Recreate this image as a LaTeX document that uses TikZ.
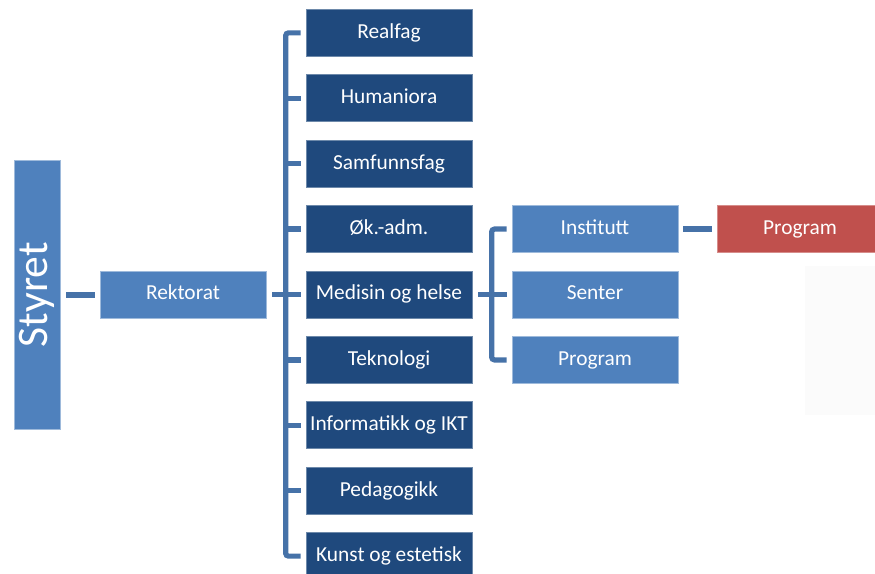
\documentclass[tikz,border=0pt]{standalone}
\usepackage{fontspec}
\setmainfont{Carlito}
\usepackage{tikz}
\definecolor{morkblaa}{RGB}{31,73,125}
\definecolor{lysblaa}{RGB}{79,129,189}
\definecolor{raudfarge}{RGB}{192,80,77}
\definecolor{linjefarge}{RGB}{70,114,168}
\usetikzlibrary{positioning}
\tikzset{
	eining/.style={
		rectangle,
		draw=white!45!lysblaa,
		line width=0.5pt,
		fill=lysblaa,
		text=white,
		minimum height=1.175cm,
		minimum width=4.15cm,
		inner sep=0pt,
		text height=11pt,
		text depth=3.4pt,
		font=\fontsize{15.2pt}{18pt}\selectfont
	},
	fag/.style={
		eining,
		draw=white!35!morkblaa,
		fill=morkblaa
	},
	raud/.style={
		eining,
		draw=white!35!raudfarge,
		fill=raudfarge
	},
	hovud/.style={
		eining,
		minimum height=6.725cm,
		minimum width=1.15cm,
		text height=,
		text depth=,
		font=\fontsize{31pt}{37pt}\selectfont
	},
	link/.style={
		draw=linjefarge,
		line width=0.13cm
	},
}

\begin{document}
\begin{tikzpicture}[node distance=1.635cm,on grid]
	\clip (0,0) rectangle (21.875,-14.35);
	\fill[black!1.5] (20.125,-6.65) rectangle (21.875,-10.375);
	\node[hovud] (styret) at (0.925,-7.3625) {\rotatebox{90}{Styret}};
	\node[eining] (rektorat) [right=3.65cm of styret] {Rektorat};
	\node[fag] (medisin) [right=5.15cm of rektorat] {Medisin og helse};
	\node[fag] (okadm) [above=of medisin] {Øk.-adm.};
	\node[fag] (samfunnsfag) [above=of okadm] {Samfunnsfag};
	\node[fag] (humaniora) [above=of samfunnsfag] {Humaniora};
	\node[fag] (realfag) [above=of humaniora] {Realfag};
	\node[fag] (teknologi) [below=of medisin] {Teknologi};
	\node[fag] (informatikk) [below=of teknologi] {Informatikk og IKT};
	\node[fag] (pedagogikk) [below=of informatikk] {Pedagogikk};
	\node[fag] (kunst) [below=of pedagogikk] {Kunst og estetisk};
	\node[eining] (senter) [right=5.15cm of medisin] {Senter};
	\node[eining] (institutt) [above=of senter] {Institutt};
	\node[eining] (program) [below=of senter] {Program};
	\node[raud] (prog) [right=5.125cm of institutt] {Program};
	% styret -> rektorat
	\draw[link,line width=0.15cm,shorten <=0.15cm,shorten >=0.125cm] (styret) -- (rektorat);
	% rektorat -> fag
	\draw[link] ([xshift=0.15cm]rektorat.east) -- ([xshift=-0.125cm]medisin.west);
	\draw[link,rounded corners=2pt] ([xshift=-0.125cm]realfag.west) -- ++(-0.375cm,0)
		|- ([xshift=-0.125cm]kunst.west);
	\foreach \n in {humaniora,samfunnsfag,okadm,teknologi,informatikk,pedagogikk}
		\draw[link] ([xshift=-0.125cm]\n.west) -- ++(-0.375cm,0);
	% medisin -> einingar
	\draw[link] ([xshift=0.15cm]medisin.east) -- ([xshift=-0.125cm]senter.west);
	\draw[link,rounded corners=2pt] ([xshift=-0.125cm]institutt.west) -- ++(-0.375cm,0)
		|- ([xshift=-0.125cm]program.west);
	% institutt -> program
	\draw[link,shorten <=0.125cm,shorten >=0.125cm] (institutt) -- (prog);
\end{tikzpicture}
\end{document}
